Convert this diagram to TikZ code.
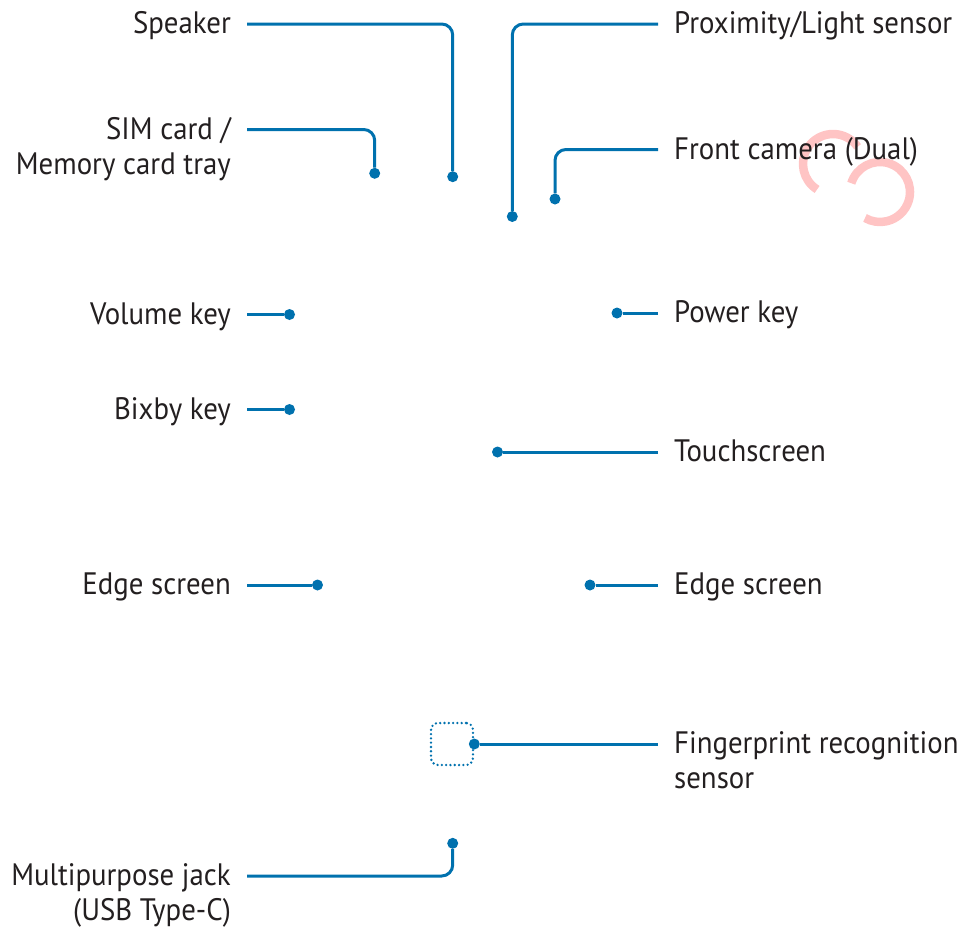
\documentclass[tikz,border=0pt]{standalone}
\usepackage{fontspec}
\setmainfont[FakeStretch=0.93]{PT Sans}
\definecolor{leaderblue}{RGB}{0,113,174}
\definecolor{labelgray}{RGB}{35,31,32}
\definecolor{markpink}{RGB}{255,196,196}
\tikzset{
    pindot/.style={
        circle, fill=leaderblue,
        inner sep=0pt, minimum size=11pt
    },
    leader/.style={draw=leaderblue, line width=3pt, rounded corners=11pt},
    lbl/.style={
        inner xsep=16pt, inner ysep=0pt,
        text height=23pt, text depth=4pt,
        text=labelgray, font=\fontsize{31}{35}\selectfont
    },
    lbll/.style={lbl, anchor=east},
    lblr/.style={lbl, anchor=west},
    fpbox/.style={
        draw=leaderblue, line width=2.6pt, rounded corners=7pt,
        dash pattern=on 0pt off 4.3pt, line cap=round,
        minimum size=42pt, inner sep=0pt
    }
}
\begin{document}
\begin{tikzpicture}[x=1pt, y=-1pt]
	\useasboundingbox (0,0) rectangle (967,932);

	% pink mark behind the camera label
	\draw[markpink, line width=8.5pt] (833,164) ++(122:30) arc[start angle=122, end angle=325, radius=30];
	\draw[markpink, line width=8.5pt] (880,192) ++(197:30) arc[start angle=197, end angle=480, radius=30];

	\node[pindot] (spkdot)   at (452.7,176.7) {};
	\node[pindot] (simdot)   at (374.7,173.3) {};
	\node[pindot] (proxdot)  at (512.3,216.5) {};
	\node[pindot] (camdot)   at (555,199) {};
	\node[pindot] (voldot)   at (289.5,314.5) {};
	\node[pindot] (bixdot)   at (289.5,409.5) {};
	\node[pindot] (pwrdot)   at (617,313) {};
	\node[pindot] (tchdot)   at (497.5,452) {};
	\node[pindot] (edgeldot) at (317.5,585) {};
	\node[pindot] (edgerdot) at (590,585) {};
	\node[fpbox]  (fparea)   at (452,744) {};
	\node[pindot] (fpdot)    at (fparea.east) {};
	\node[pindot] (usbdot)   at (452.7,843.3) {};

	\node[lbll] (spk)   at (247,24) {Speaker};
	\node[lbll] (sim)   at (247,129.5) {\begin{tabular}[t]{@{}r@{}}SIM card /\\Memory card tray\end{tabular}};
	\node[lblr] (prox)  at (658,24) {Proximity/Light sensor};
	\node[lblr] (cam)   at (658,149.5) {Front camera (Dual)};
	\node[lbll] (vol)   at (247,314.5) {Volume key};
	\node[lbll] (bix)   at (247,409.5) {Bixby key};
	\node[lblr] (pwr)   at (658,313) {Power key};
	\node[lblr] (tch)   at (658,452) {Touchscreen};
	\node[lbll] (edgel) at (247,585) {Edge screen};
	\node[lblr] (edger) at (658,585) {Edge screen};
	\node[lblr] (fp)    at (658,744) {\begin{tabular}[t]{@{}l@{}}Fingerprint recognition\\sensor\end{tabular}};
	\node[lbll] (usb)   at (247,876) {\begin{tabular}[t]{@{}r@{}}Multipurpose jack\\(USB Type-C)\end{tabular}};

	\draw[leader] (spk.east) -| (spkdot);
	\draw[leader] (sim.east) -| (simdot);
	\draw[leader] (prox.west) -| (proxdot);
	\draw[leader] (cam.west) -| (camdot);
	\draw[leader] (vol.east) -- (voldot);
	\draw[leader] (bix.east) -- (bixdot);
	\draw[leader] (pwr.west) -- (pwrdot);
	\draw[leader] (tch.west) -- (tchdot);
	\draw[leader] (edgel.east) -- (edgeldot);
	\draw[leader] (edger.west) -- (edgerdot);
	\draw[leader] (fp.west) -- (fpdot);
	\draw[leader] (usbdot) |- (usb.east);
\end{tikzpicture}
\end{document}
